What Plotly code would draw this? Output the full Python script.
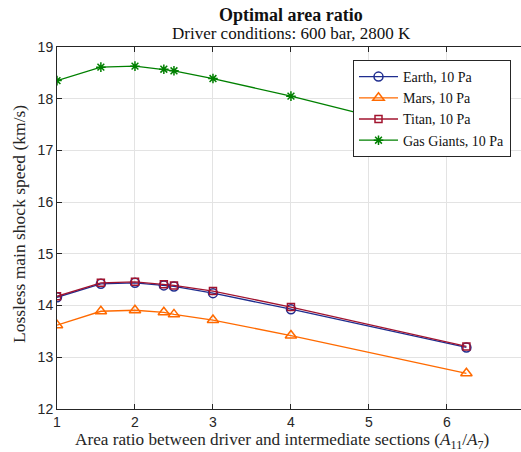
import plotly.graph_objects as go

area_ratio = [1, 1.5625, 2, 2.37, 2.5, 3, 4, 6.25]
earth = [14.16, 14.42, 14.44, 14.39, 14.37, 14.24, 13.93, 13.19]
mars = [13.62, 13.89, 13.91, 13.87, 13.83, 13.72, 13.42, 12.69]
titan = [14.18, 14.44, 14.46, 14.41, 14.39, 14.28, 13.97, 13.21]
gas_giants = [18.35, 18.61, 18.63, 18.57, 18.54, 18.39, 18.05, 17.20]

x_ticks = [1, 2, 3, 4, 5, 6]
y_ticks = [12, 13, 14, 15, 16, 17, 18, 19]

series = [
    ("Earth, 10 Pa", earth, "#1f2d8f", "circle-open", 9),
    ("Mars, 10 Pa", mars, "#ff6a00", "triangle-up-open", 10),
    ("Titan, 10 Pa", titan, "#a2142f", "square-open", 7),
    ("Gas Giants, 10 Pa", gas_giants, "#008000", "asterisk-open", 8),
]

fig = go.Figure()
for name, vals, col, sym, sz in series:
    fig.add_trace(go.Scatter(
        x=area_ratio, y=vals, name=name, mode="lines+markers",
        line=dict(color=col, width=1.3),
        marker=dict(symbol=sym, size=sz, color=col, line=dict(color=col, width=1.5)),
    ))

serif = "Liberation Serif, DejaVu Serif, serif"
sans = "Liberation Sans, Arial, sans-serif"
axcol = "#262626"

L, R, T, B = 57, 0, 47, 43
W, H = 521, 452
plot_w = W - L - R
plot_h = H - T - B


def px_x(px):
    return (px - L) / plot_w


def px_y(py):
    return (H - py - B) / plot_h


fig.update_layout(
    width=W, height=H,
    margin=dict(l=L, r=R, t=T, b=B),
    paper_bgcolor="white", plot_bgcolor="white",
    showlegend=True,
    legend=dict(
        x=px_x(353), y=px_y(60), xanchor="left", yanchor="top",
        bgcolor="white", bordercolor=axcol, borderwidth=1,
        font=dict(family=serif, size=14, color="#111"),
        itemwidth=39, tracegroupgap=0,
    ),
    xaxis=dict(
        range=[1, 6.95], tickvals=x_ticks, ticks="inside", ticklen=5,
        tickcolor=axcol, showline=True, linecolor=axcol, linewidth=1,
        mirror="ticks", showgrid=True, gridcolor="#e3e3e3", zeroline=False,
        tickfont=dict(family=sans, size=14, color=axcol),
    ),
    yaxis=dict(
        range=[12, 19], tickvals=y_ticks, ticks="inside", ticklen=5,
        tickcolor=axcol, showline=True, linecolor=axcol, linewidth=1,
        mirror=False, showgrid=True, gridcolor="#e3e3e3", zeroline=False,
        tickfont=dict(family=sans, size=14, color=axcol),
    ),
    annotations=[
        dict(text="<b>Optimal area ratio</b>", x=px_x(291), y=px_y(15),
             xref="paper", yref="paper", xanchor="center", yanchor="middle",
             showarrow=False, font=dict(family=serif, size=18, color="#111")),
        dict(text="Driver conditions: 600 bar, 2800 K", x=px_x(291), y=px_y(33),
             xref="paper", yref="paper", xanchor="center", yanchor="middle",
             showarrow=False, font=dict(family=serif, size=17, color="#111")),
        dict(text="Area ratio between driver and intermediate sections (<i>A</i><sub>11</sub>/<i>A</i><sub>7</sub>)",
             x=px_x(282), y=px_y(441), xref="paper", yref="paper",
             xanchor="center", yanchor="middle", showarrow=False,
             font=dict(family=serif, size=17.2, color=axcol)),
        dict(text="Lossless main shock speed (km/s)", x=px_x(19), y=px_y(224),
             xref="paper", yref="paper", xanchor="center", yanchor="middle",
             textangle=-90, showarrow=False,
             font=dict(family=serif, size=17.5, color=axcol)),
    ],
)

fig.write_html("out.html", config={"displayModeBar": False},
               post_script="document.body.style.margin='0';")
